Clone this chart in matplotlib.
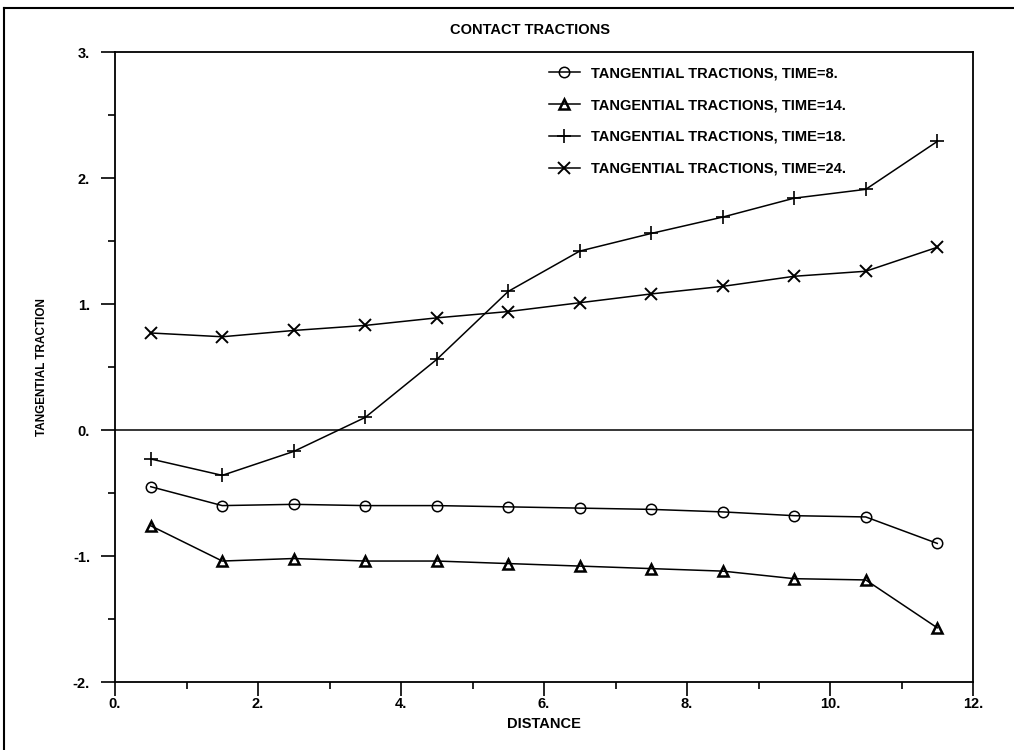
import matplotlib
matplotlib.use("Agg")
import matplotlib.pyplot as plt
from matplotlib.lines import Line2D
from matplotlib.ticker import MultipleLocator, FuncFormatter

plt.rcParams['font.family'] = ['Liberation Sans', 'DejaVu Sans']
plt.rcParams['font.weight'] = 'bold'

distance = [0.5, 1.5, 2.5, 3.5, 4.5, 5.5, 6.5, 7.5, 8.5, 9.5, 10.5, 11.5]
time8 = [-0.45, -0.60, -0.59, -0.60, -0.60, -0.61, -0.62, -0.63, -0.65, -0.68, -0.69, -0.90]
time14 = [-0.76, -1.04, -1.02, -1.04, -1.04, -1.06, -1.08, -1.10, -1.12, -1.18, -1.19, -1.57]
time18 = [-0.23, -0.36, -0.17, 0.10, 0.56, 1.10, 1.42, 1.56, 1.69, 1.84, 1.91, 2.29]
time24 = [0.77, 0.74, 0.79, 0.83, 0.89, 0.94, 1.01, 1.08, 1.14, 1.22, 1.26, 1.45]
labels = ["TANGENTIAL TRACTIONS, TIME=8.", "TANGENTIAL TRACTIONS, TIME=14.",
          "TANGENTIAL TRACTIONS, TIME=18.", "TANGENTIAL TRACTIONS, TIME=24."]

W, H = 1014, 750
fig = plt.figure(figsize=(W / 100, H / 100), dpi=100)
ax = fig.add_axes([115 / W, 1 - 682 / H, (973 - 115) / W, (682 - 52) / H])

lw = 1.1
ax.plot(distance, time8, color='black', lw=lw, marker='o', ms=7.5, mfc='none', mec='black', mew=1.1, label=labels[0])
ax.plot(distance, time14, color='black', lw=lw, marker='^', ms=7.5, mfc='none', mec='black', mew=1.8, label=labels[1])
ax.plot(distance, time18, color='black', lw=lw, marker='+', ms=10, mew=1.2, label=labels[2])
ax.plot(distance, time24, color='black', lw=lw, marker='x', ms=9, mew=1.4, label=labels[3])

ax.axhline(0, color='black', lw=1.1)
ax.set_xlim(0, 12)
ax.set_ylim(-2, 3)
ax.xaxis.set_major_locator(MultipleLocator(2))
ax.xaxis.set_minor_locator(MultipleLocator(1))
ax.yaxis.set_major_locator(MultipleLocator(1))
ax.yaxis.set_minor_locator(MultipleLocator(0.5))
fmt = FuncFormatter(lambda v, p: "%d." % round(v))
ax.xaxis.set_major_formatter(fmt)
ax.yaxis.set_major_formatter(fmt)
ax.tick_params(axis='both', which='major', direction='out', length=10, width=1.2, labelsize=10.5)
ax.tick_params(axis='both', which='minor', direction='out', length=5, width=1.2)
ax.tick_params(axis='y', which='major', pad=8)
ax.tick_params(axis='x', which='major', pad=1)
for lab in ax.get_xticklabels() + ax.get_yticklabels():
    lab.set_fontweight('bold')
for s in ax.spines.values():
    s.set_linewidth(1.3)

ax.set_xlabel("DISTANCE", fontsize=10.5, fontweight='bold', labelpad=4)
ax.set_ylabel("TANGENTIAL TRACTION", fontsize=8.5, fontweight='bold', labelpad=18)

leg = ax.legend(loc='upper left', bbox_to_anchor=((536 - 115) / (973 - 115), 0.998), frameon=False,
                handlelength=2.1, labelspacing=1.22, handletextpad=0.75,
                prop={'weight': 'bold', 'size': 10.5})

fig.text(530 / W, 1 - 30 / H, "CONTACT TRACTIONS", ha='center', va='center', fontsize=10.5, fontweight='bold')

# outer frame (left and top edges visible in the reference)
fig.add_artist(Line2D([4 / W, 4 / W], [0, 1 - 8 / H], transform=fig.transFigure, color='black', lw=1.5))
fig.add_artist(Line2D([4 / W, 1], [1 - 8 / H, 1 - 8 / H], transform=fig.transFigure, color='black', lw=1.5))

fig.savefig("out.png", dpi=100)
